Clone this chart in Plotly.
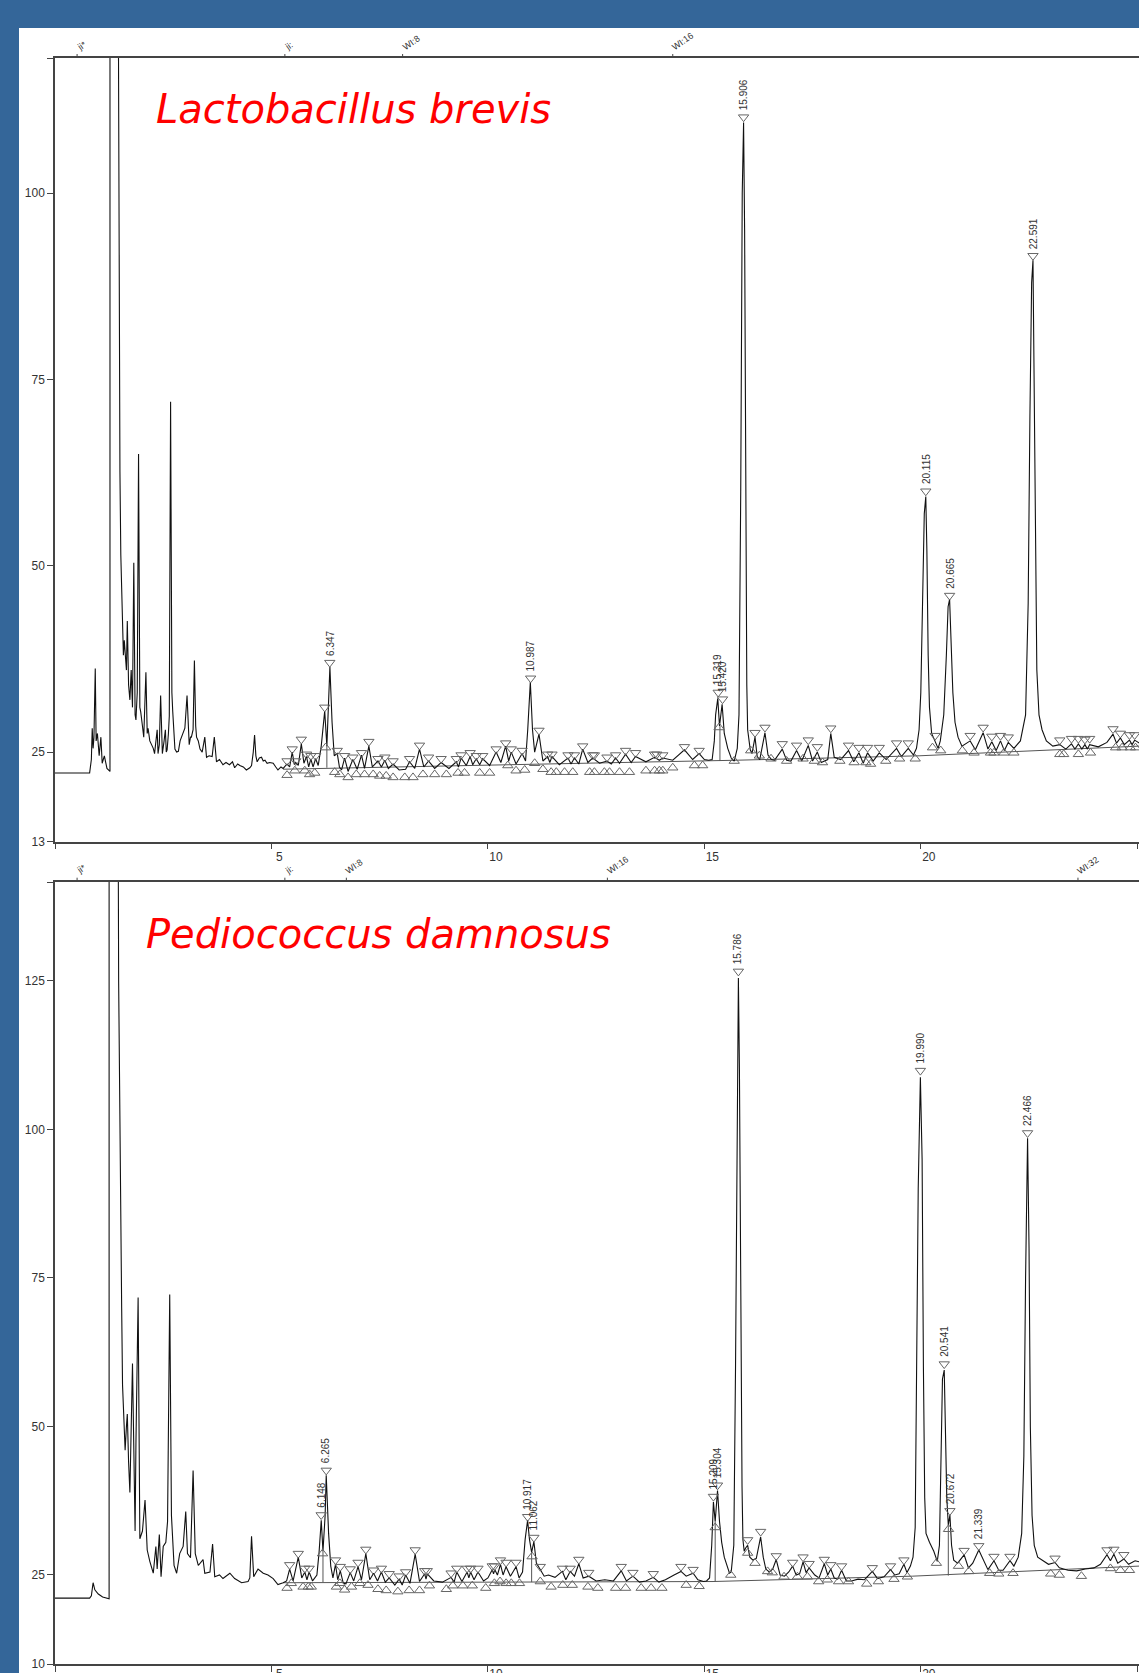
import plotly.graph_objects as go

W, H = 1139, 1673

# ---------------- Lactobacillus brevis (top chromatogram) ----------------
TOP_T = [0.00, 0.80, 0.84, 0.86, 0.88, 0.90, 0.93, 0.95, 0.98, 1.02,
         1.06, 1.09, 1.14, 1.20, 1.27, 1.27, 1.46, 1.47, 1.48, 1.50,
         1.52, 1.54, 1.56, 1.58, 1.60, 1.62, 1.65, 1.67, 1.70, 1.73,
         1.76, 1.79, 1.82, 1.85, 1.87, 1.90, 1.93, 1.96, 1.98, 2.02,
         2.05, 2.10, 2.13, 2.15, 2.19, 2.23, 2.27, 2.30, 2.34, 2.36,
         2.38, 2.41, 2.44, 2.46, 2.48, 2.52, 2.55, 2.57, 2.59, 2.62,
         2.64, 2.67, 2.70, 2.72, 2.75, 2.77, 2.81, 2.85, 2.89, 2.92,
         2.96, 3.00, 3.05, 3.08, 3.10, 3.13, 3.15, 3.19, 3.22, 3.25,
         3.27, 3.31, 3.35, 3.40, 3.46, 3.50, 3.56, 3.63, 3.68, 3.73,
         3.80, 3.88, 3.95, 4.03, 4.10, 4.15, 4.22, 4.27, 4.35, 4.42,
         4.50, 4.54, 4.58, 4.61, 4.64, 4.67, 4.72, 4.77, 4.81, 4.85,
         4.90, 4.96, 5.04, 5.10, 5.15,
         5.22, 5.27, 5.36, 5.42, 5.48, 5.53, 5.56, 5.62, 5.69, 5.75,
         5.81, 5.86, 5.91, 5.96, 6.02, 6.08, 6.15, 6.23, 6.28, 6.35,
         6.40, 6.45, 6.52, 6.57, 6.62, 6.69, 6.77, 6.88, 6.98, 7.08,
         7.15, 7.25, 7.33, 7.46, 7.54, 7.62, 7.70, 7.81, 7.95, 8.10,
         8.19, 8.31, 8.42, 8.52, 8.63, 8.77, 8.92, 9.10, 9.27, 9.32,
         9.38, 9.50, 9.59, 9.65, 9.73, 9.81, 9.88, 10.04, 10.19, 10.30,
         10.41, 10.48, 10.54, 10.65, 10.79, 10.87, 10.92, 10.98, 11.03, 11.08,
         11.18, 11.27, 11.38, 11.43, 11.48, 11.65, 11.85, 11.92, 12.00, 12.10,
         12.19, 12.31, 12.42, 12.58, 12.75, 12.85, 12.95, 13.04, 13.18, 13.31,
         13.41, 13.65, 13.85, 13.96, 14.04, 14.27, 14.54, 14.73, 14.88, 15.00,
         15.10, 15.18, 15.23, 15.26, 15.31, 15.35, 15.41, 15.46, 15.54, 15.62,
         15.69, 15.76, 15.80, 15.84, 15.875, 15.906, 15.93, 15.96, 15.98, 16.00,
         16.06, 16.10, 16.17, 16.22, 16.28, 16.40, 16.47, 16.55, 16.62, 16.80,
         16.90, 17.00, 17.13, 17.25, 17.40, 17.50, 17.61, 17.70, 17.85, 17.92,
         18.00, 18.15, 18.33, 18.45, 18.57, 18.67, 18.77, 18.90, 19.04, 19.20,
         19.44, 19.55, 19.71, 19.83, 19.90, 19.96, 20.00, 20.04, 20.08, 20.115,
         20.14, 20.17, 20.20, 20.25, 20.33, 20.40, 20.45, 20.53, 20.59, 20.63,
         20.665, 20.70, 20.74, 20.79, 20.86, 20.95, 21.14, 21.26, 21.44, 21.55,
         21.64, 21.74, 21.84, 21.93, 22.02, 22.15, 22.30, 22.42, 22.48, 22.52,
         22.56, 22.591, 22.62, 22.65, 22.68, 22.73, 22.80, 22.90, 23.05, 23.21,
         23.35, 23.48, 23.56, 23.64, 23.72, 23.79, 23.85, 23.90, 24.10, 24.30,
         24.44, 24.52, 24.61, 24.70, 24.82, 24.88, 24.94, 25.05]
TOP_V = [22.2, 22.2, 24.0, 28.2, 25.5, 27.0, 36.2, 26.5, 27.5, 24.5,
         27.0, 23.5, 24.5, 22.8, 22.4, 130.0, 130.0, 104.0, 82.0, 62.6,
         51.5, 46.0, 41.5, 38.0, 40.0, 37.6, 36.0, 42.6, 34.0, 32.0,
         36.0, 31.0, 50.4, 30.0, 29.3, 33.0, 65.0, 31.0, 30.4, 28.5,
         27.0, 35.7, 27.5, 28.2, 26.5, 26.0, 25.5, 24.8, 27.0, 28.0,
         24.8, 26.0, 32.6, 27.0, 24.8, 26.5, 28.0, 25.0, 25.3, 27.5,
         29.8, 72.0, 33.0, 30.4, 26.5, 25.4, 25.0, 25.1, 26.5, 27.0,
         27.5, 28.2, 32.6, 27.0, 26.0, 27.0, 27.0, 28.0, 37.3, 28.5,
         27.0, 26.5, 25.4, 25.0, 27.0, 24.3, 24.5, 24.4, 27.0, 23.7,
         24.0, 23.3, 23.6, 23.3, 23.7, 22.9, 23.4, 23.2, 23.0, 22.6,
         22.9, 23.2, 25.0, 27.3, 24.5, 23.7, 24.2, 24.3, 23.8, 23.9,
         23.5, 23.6, 23.5, 23.0, 22.6,
         23.0, 22.8, 23.4, 23.0, 25.0, 23.3, 23.6, 23.2, 26.1, 23.5,
         24.4, 23.0, 24.1, 23.0, 24.1, 23.2, 25.8, 30.5, 25.8, 36.4,
         29.0, 24.5, 24.8, 23.0, 22.6, 24.2, 22.4, 24.0, 22.7, 24.6,
         22.8, 25.8, 23.0, 23.8, 23.0, 23.9, 22.8, 23.4, 22.6, 22.7,
         23.7, 22.8, 25.4, 23.0, 23.8, 22.8, 23.6, 22.8, 23.7, 23.0,
         24.2, 23.2, 24.4, 23.3, 24.1, 23.3, 24.1, 23.2, 25.0, 23.6,
         25.8, 23.8, 25.0, 23.4, 24.8, 23.8, 28.0, 34.4, 28.0, 25.0,
         27.4, 23.8, 24.4, 23.6, 24.4, 23.3, 24.2, 23.4, 24.2, 23.4,
         25.4, 23.6, 24.2, 23.5, 23.8, 23.4, 24.2, 23.5, 24.7, 23.6,
         24.4, 23.7, 24.3, 23.9, 24.2, 23.9, 25.3, 24.0, 24.8, 24.0,
         23.9, 24.0, 26.5, 30.0, 32.2, 28.5, 31.4, 27.5, 25.5, 24.2,
         23.8, 25.5, 30.0, 60.0, 100.0, 109.5, 95.0, 55.0, 34.0, 28.0,
         25.3, 24.8, 27.0, 24.4, 24.0, 27.6, 24.6, 24.0, 23.9, 25.4,
         23.9, 23.8, 25.2, 23.8, 25.9, 23.8, 25.0, 23.6, 24.0, 27.5,
         24.3, 24.0, 25.2, 23.7, 24.9, 23.5, 24.9, 23.8, 24.9, 24.0,
         25.5, 24.4, 25.5, 24.6, 25.5, 28.0, 33.0, 45.0, 57.0, 59.3,
         52.0, 38.0, 31.0, 27.5, 26.5, 25.5, 26.5, 30.0, 38.0, 44.5,
         45.5, 40.0, 33.0, 29.0, 27.0, 25.8, 26.5, 25.3, 27.6, 25.4,
         26.4, 25.2, 26.5, 25.2, 26.3, 25.5, 26.5, 30.0, 45.0, 70.0,
         88.0, 91.0, 70.0, 48.0, 36.0, 30.0, 28.0, 26.5, 25.8, 26.0,
         25.4, 26.1, 25.4, 26.1, 25.4, 26.0, 25.4, 26.0, 25.7, 26.3,
         27.4, 26.2, 26.9, 26.0, 26.6, 26.0, 26.6, 26.2]

TOP_APEX_T = [5.36, 5.48, 5.56, 5.69, 5.81, 5.91, 6.02, 6.23, 6.347, 6.52,
              6.69, 6.88, 7.08, 7.25, 7.46, 7.62, 7.81, 8.19, 8.42, 8.63,
              8.92, 9.27, 9.38, 9.59, 9.73, 9.88, 10.19, 10.41, 10.54, 10.79,
              10.987, 11.18, 11.38, 11.48, 11.85, 12.00, 12.19, 12.42, 12.46, 12.75,
              12.95, 13.18, 13.41, 13.85, 13.90, 14.04, 14.54, 14.88, 15.319, 15.420,
              15.906, 16.17, 16.40, 16.80, 17.13, 17.40, 17.61, 17.92, 18.33, 18.57,
              18.77, 19.04, 19.44, 19.71, 20.115, 20.33, 20.665, 21.14, 21.44, 21.64,
              21.84, 22.02, 22.591, 23.21, 23.48, 23.64, 23.79, 23.90, 24.44, 24.61,
              24.82, 24.94]
TOP_APEX_V = [23.8, 25.4, 23.8, 26.7, 24.7, 24.5, 24.5, 31.0, 37.0, 25.2,
              24.5, 24.3, 24.9, 26.4, 24.1, 24.3, 23.8, 24.1, 25.9, 24.3,
              24.1, 24.1, 24.6, 24.9, 24.5, 24.5, 25.4, 26.2, 25.4, 25.2,
              34.9, 27.9, 24.7, 24.7, 24.6, 24.6, 25.8, 24.6, 24.6, 24.3,
              24.6, 25.2, 24.9, 24.7, 24.7, 24.6, 25.7, 25.2, 33.0, 32.1,
              110.2, 27.6, 28.3, 26.1, 25.9, 26.6, 25.7, 28.2, 25.9, 25.6,
              25.6, 25.6, 26.2, 26.2, 60.0, 27.2, 46.0, 27.2, 28.3, 27.1,
              27.2, 27.0, 91.6, 26.6, 26.8, 26.8, 26.7, 26.8, 28.1, 27.5,
              27.3, 27.3]

TOP_VALLEY_T = [5.36, 5.54, 5.77, 5.88, 6.00, 6.25, 6.46, 6.58, 6.77, 6.96,
                7.15, 7.35, 7.50, 7.65, 7.81, 8.08, 8.27, 8.50, 8.77, 9.04,
                9.31, 9.46, 9.81, 10.04, 10.46, 10.65, 10.85, 11.08, 11.27, 11.46,
                11.58, 11.77, 11.96, 12.35, 12.46, 12.69, 12.81, 13.04, 13.27, 13.65,
                13.85, 13.96, 14.04, 14.27, 14.77, 14.96, 15.34, 15.69, 16.07, 16.27,
                16.54, 16.90, 17.28, 17.54, 17.73, 18.13, 18.46, 18.73, 18.84, 19.19,
                19.51, 19.87, 20.27, 20.46, 20.96, 21.23, 21.61, 21.69, 21.92, 22.15,
                23.21, 23.30, 23.64, 23.92, 24.50, 24.65, 24.84, 24.96]
TOP_VALLEY_V = [21.9, 22.5, 22.5, 22.0, 22.2, 25.6, 22.3, 22.0, 21.6, 22.0,
                22.0, 22.0, 21.8, 21.8, 21.6, 21.6, 21.6, 22.0, 22.0, 22.0,
                22.2, 22.2, 22.2, 22.2, 23.2, 22.5, 22.6, 23.5, 22.7, 22.3,
                22.3, 22.3, 22.3, 22.3, 22.3, 22.3, 22.3, 22.3, 22.3, 22.5,
                22.5, 22.5, 22.5, 22.9, 23.2, 23.2, 28.3, 23.8, 25.2, 24.5,
                24.1, 23.8, 24.1, 23.8, 23.6, 23.8, 23.6, 23.6, 23.4, 23.8,
                24.1, 24.1, 25.6, 25.2, 25.2, 24.9, 24.9, 24.9, 24.9, 24.9,
                24.7, 24.7, 24.7, 24.9, 25.6, 25.6, 25.6, 25.6]

TOP_BASE_T = [5.27, 15.00, 15.69, 19.96, 25.05]
TOP_BASE_V = [22.7, 23.8, 23.9, 24.5, 25.8]
TOP_DROP_T = [6.28, 15.36]
TOP_DROP_LO = [22.9, 23.8]
TOP_DROP_HI = [25.8, 28.5]

TOP_LABEL_TEXT = ["6.347", "10.987", "15.319", "15.420", "15.906", "20.115", "20.665", "22.591"]
TOP_LABEL_T = [6.347, 10.987, 15.319, 15.420, 15.906, 20.115, 20.665, 22.591]
TOP_LABEL_V = [37.0, 34.9, 33.0, 32.1, 110.2, 60.0, 46.0, 91.6]

TOP_EVENT_T = [0.51, 5.31, 8.03, 14.27]
TOP_EVENT_TEXT = ["ji*", "ji:", "WI:8", "WI:16"]

TOP_TITLE = "Lactobacillus brevis"
TOP_YTICKS = [13, 25, 50, 75, 100, 118.1]
TOP_YTEXT = ["13", "25", "50", "75", "100", ""]
TOP_YRANGE = [13, 118.14]

# ---------------- Pediococcus damnosus (bottom chromatogram) ----------------
BOT_T = [0.00, 0.80, 0.84, 0.88, 0.92, 1.00, 1.10, 1.25, 1.25, 1.46,
         1.47, 1.49, 1.50, 1.52, 1.54, 1.56, 1.58, 1.59, 1.62, 1.65,
         1.67, 1.70, 1.73, 1.79, 1.83, 1.85, 1.87, 1.92, 1.96, 2.02,
         2.08, 2.13, 2.19, 2.27, 2.33, 2.36, 2.41, 2.45, 2.50, 2.56,
         2.60, 2.62, 2.65, 2.69, 2.75, 2.81, 2.88, 2.96, 3.02, 3.06,
         3.13, 3.19, 3.24, 3.31, 3.42, 3.46, 3.58, 3.64, 3.69, 3.80,
         3.88, 4.04, 4.15, 4.31, 4.46, 4.50, 4.54, 4.59, 4.69, 4.81,
         4.92, 5.04, 5.15,
         5.27, 5.35, 5.42, 5.50, 5.62, 5.70, 5.77, 5.82, 5.87, 5.95,
         6.05, 6.10, 6.15, 6.19, 6.24, 6.265, 6.32, 6.37, 6.42, 6.48,
         6.53, 6.59, 6.66, 6.72, 6.82, 6.90, 7.00, 7.08, 7.18, 7.27,
         7.36, 7.45, 7.54, 7.63, 7.72, 7.85, 7.95, 8.02, 8.10, 8.20,
         8.32, 8.42, 8.54, 8.57, 8.60, 8.75, 8.95, 9.15, 9.22, 9.28,
         9.40, 9.52, 9.56, 9.60, 9.68, 9.77, 9.90, 10.00, 10.10, 10.13,
         10.16, 10.22, 10.29, 10.35, 10.42, 10.52, 10.65, 10.72, 10.80, 10.86,
         10.917, 10.96, 11.01, 11.062, 11.12, 11.21, 11.30, 11.40, 11.55, 11.72,
         11.80, 11.90, 12.00, 12.10, 12.20, 12.33, 12.50, 12.70, 12.90, 13.08,
         13.20, 13.35, 13.50, 13.65, 13.82, 13.95, 14.10, 14.30, 14.46, 14.58,
         14.74, 14.85, 14.98,
         15.05, 15.12, 15.17, 15.209, 15.25, 15.304, 15.35, 15.40, 15.46, 15.53,
         15.58, 15.62, 15.68, 15.72, 15.75, 15.786, 15.81, 15.84, 15.87, 15.89,
         15.92, 15.95, 16.00, 16.05, 16.12, 16.20, 16.30, 16.36, 16.42, 16.50,
         16.58, 16.66, 16.75, 16.85, 16.95, 17.04, 17.12, 17.20, 17.28, 17.35,
         17.42, 17.55, 17.65, 17.77, 17.85, 17.92, 18.00, 18.08, 18.17, 18.28,
         18.40, 18.55, 18.70, 18.88, 19.00, 19.15, 19.30, 19.40, 19.50, 19.61,
         19.68, 19.76, 19.82, 19.87, 19.90, 19.94, 19.99, 20.03, 20.06, 20.09,
         20.12, 20.20, 20.30, 20.38, 20.43, 20.47, 20.50, 20.541, 20.57, 20.60,
         20.635, 20.672, 20.71, 20.76, 20.85, 21.00, 21.10, 21.20, 21.339, 21.45,
         21.55, 21.69, 21.80, 21.90, 22.06, 22.15, 22.25, 22.33, 22.38, 22.42,
         22.466, 22.50, 22.53, 22.57, 22.62, 22.70, 22.80, 22.95, 23.10, 23.20,
         23.40, 23.60, 23.80, 24.00, 24.15, 24.30, 24.38, 24.46, 24.55, 24.69,
         24.80, 24.95, 25.05]
BOT_V = [21.1, 21.1, 21.5, 23.7, 22.5, 21.8, 21.3, 21.0, 150.0, 150.0,
         125.0, 105.0, 93.8, 80.0, 69.9, 57.0, 53.0, 51.8, 46.0, 50.0,
         52.1, 44.0, 38.9, 60.6, 36.0, 32.4, 47.3, 71.7, 31.1, 32.4,
         37.6, 29.2, 27.3, 25.3, 29.8, 26.0, 31.8, 24.7, 29.8, 30.5,
         34.0, 46.7, 72.2, 35.0, 26.6, 25.3, 28.6, 29.8, 35.7, 28.6,
         27.9, 42.6, 28.6, 26.6, 27.6, 25.3, 25.5, 30.2, 24.7, 25.0,
         24.4, 25.3, 24.4, 23.7, 23.9, 24.5, 31.5, 24.7, 26.0, 25.3,
         25.0, 24.4, 23.4,
         23.7, 24.0, 26.0, 24.0, 28.0, 24.5, 25.5, 24.2, 25.5, 24.0,
         25.0, 28.8, 34.2, 29.0, 35.0, 41.8, 32.0, 26.5, 24.5, 26.8,
         24.2, 25.7, 23.6, 23.5, 25.4, 24.0, 26.4, 24.2, 28.6, 24.2,
         25.3, 24.0, 25.5, 23.8, 24.5, 23.3, 24.3, 23.3, 25.0, 23.6,
         28.5, 23.9, 25.2, 24.3, 25.2, 24.0, 23.8, 24.6, 23.8, 25.5,
         23.9, 25.5, 24.5, 25.5, 24.2, 25.5, 24.0, 24.5, 25.9, 25.2,
         25.9, 25.0, 26.8, 25.0, 26.4, 24.8, 26.4, 24.5, 25.5, 31.0,
         34.2, 31.0, 28.8, 30.6, 27.0, 25.8, 24.8, 25.0, 24.6, 25.6,
         24.2, 25.6, 24.8, 26.9, 24.5, 24.8, 24.0, 24.2, 24.0, 25.7,
         24.0, 24.8, 23.8, 24.0, 24.6, 23.8, 24.2, 25.0, 25.6, 24.8,
         25.3, 24.2, 23.9,
         24.0, 24.5, 30.0, 37.3, 34.0, 39.2, 34.0, 30.5, 28.0, 26.2,
         25.3, 25.5, 30.0, 60.0, 100.0, 125.5, 110.0, 70.0, 40.0, 31.0,
         29.0, 29.5, 30.0, 28.0, 27.5, 27.8, 31.4, 28.0, 26.0, 25.5,
         26.0, 27.6, 25.0, 24.8, 25.5, 26.5, 25.0, 25.2, 27.2, 25.4,
         26.2, 25.0, 24.5, 26.9, 25.0, 26.0, 24.5, 24.3, 25.8, 24.0,
         24.0, 24.3, 24.2, 25.6, 24.4, 24.7, 25.9, 25.0, 25.2, 26.8,
         25.4, 26.5, 28.0, 33.0, 55.0, 90.0, 108.8, 95.0, 60.0, 38.0,
         32.0, 30.5, 29.0, 27.3, 30.0, 45.0, 58.0, 59.5, 45.0, 38.0,
         33.4, 35.1, 30.0, 27.5, 27.0, 28.4, 26.2, 27.0, 29.2, 27.5,
         25.9, 27.4, 25.8, 25.8, 27.4, 26.5, 28.0, 32.0, 45.0, 75.0,
         98.5, 80.0, 50.0, 35.0, 30.0, 28.0, 27.5, 26.8, 27.1, 26.2,
         25.8, 25.7, 26.0, 26.2, 26.8, 28.4, 27.4, 28.5, 27.0, 27.7,
         26.8, 27.4, 27.2]

BOT_APEX_T = [5.42, 5.62, 5.77, 5.87, 6.148, 6.265, 6.48, 6.59, 6.82, 7.00,
              7.18, 7.36, 7.54, 7.72, 7.95, 8.10, 8.32, 8.54, 8.60, 9.15,
              9.28, 9.52, 9.60, 9.77, 10.10, 10.15, 10.29, 10.42, 10.65, 10.917,
              11.062, 11.21, 11.72, 11.90, 12.10, 12.33, 13.08, 13.35, 13.82, 14.46,
              14.74, 15.209, 15.304, 15.786, 16.00, 16.30, 16.66, 17.04, 17.28, 17.42,
              17.77, 17.92, 18.17, 18.88, 19.30, 19.61, 19.990, 20.541, 20.672, 21.00,
              21.339, 21.69, 22.06, 22.466, 23.10, 24.30, 24.46, 24.69]
BOT_APEX_V = [26.7, 28.6, 26.1, 26.1, 35.1, 42.6, 27.5, 26.4, 26.0, 27.1,
              29.3, 25.8, 26.1, 25.2, 24.8, 25.5, 29.2, 25.7, 25.7, 25.3,
              26.1, 26.1, 26.1, 26.1, 26.5, 26.5, 27.5, 27.1, 27.1, 34.8,
              31.3, 26.4, 26.1, 26.1, 27.6, 25.4, 26.4, 25.4, 25.2, 26.4,
              25.9, 38.2, 40.1, 126.6, 30.9, 32.3, 28.2, 27.1, 28.0, 26.9,
              27.6, 26.7, 26.5, 26.2, 26.5, 27.5, 109.9, 60.5, 35.8, 29.1,
              29.9, 28.1, 28.1, 99.4, 27.8, 29.2, 29.3, 28.4]

BOT_VALLEY_T = [5.36, 5.46, 5.73, 5.85, 5.92, 6.18, 6.50, 6.58, 6.69, 6.85,
                7.04, 7.23, 7.46, 7.65, 7.92, 8.18, 8.42, 8.65, 9.04, 9.19,
                9.42, 9.64, 9.95, 10.15, 10.28, 10.42, 10.54, 10.73, 11.02, 11.21,
                11.46, 11.73, 11.95, 12.31, 12.54, 12.95, 13.18, 13.54, 13.77, 14.02,
                14.58, 14.88, 15.25, 15.61, 16.00, 16.17, 16.46, 16.57, 16.84, 17.15,
                17.38, 17.64, 17.84, 18.10, 18.33, 18.75, 19.02, 19.38, 19.69, 20.36,
                20.64, 20.87, 21.11, 21.59, 21.80, 22.13, 23.00, 23.20, 23.71, 24.38,
                24.61, 24.82]
BOT_VALLEY_V = [22.8, 23.6, 23.0, 23.0, 23.0, 28.6, 23.0, 23.6, 22.5, 23.0,
                23.6, 23.3, 22.6, 22.4, 22.2, 22.4, 22.4, 23.2, 22.6, 23.2,
                23.2, 23.2, 22.8, 23.6, 23.9, 23.6, 23.6, 23.6, 28.1, 23.9,
                23.0, 23.3, 23.3, 23.0, 22.8, 22.8, 22.8, 22.8, 22.8, 22.8,
                23.3, 23.1, 33.0, 25.0, 28.7, 27.0, 25.6, 25.4, 24.7, 24.7,
                24.7, 23.9, 24.2, 23.9, 23.9, 23.5, 23.9, 24.3, 24.7, 27.0,
                32.7, 26.5, 25.6, 25.3, 25.2, 25.3, 25.2, 25.0, 24.8, 26.1,
                25.8, 25.8]

BOT_BASE_T = [5.27, 15.20, 19.80, 25.05]
BOT_BASE_V = [23.7, 23.9, 24.8, 26.5]
BOT_DROP_T = [6.19, 11.01, 15.25, 20.635]
BOT_DROP_LO = [23.8, 23.8, 23.9, 24.9]
BOT_DROP_HI = [29.0, 28.8, 34.0, 33.4]

BOT_LABEL_TEXT = ["6.148", "6.265", "10.917", "11.062", "15.209", "15.304",
                  "15.786", "19.990", "20.541", "20.672", "21.339", "22.466"]
BOT_LABEL_T = [6.148, 6.265, 10.917, 11.062, 15.209, 15.304,
               15.786, 19.990, 20.541, 20.672, 21.339, 22.466]
BOT_LABEL_V = [35.1, 42.6, 34.8, 31.3, 38.2, 40.1, 126.6, 109.9, 60.5, 35.8, 29.9, 99.4]

BOT_EVENT_T = [0.51, 5.31, 6.73, 12.76, 23.63]
BOT_EVENT_TEXT = ["ji*", "ji:", "WI:8", "WI:16", "WI:32"]

BOT_TITLE = "Pediococcus damnosus"
BOT_YTICKS = [10, 25, 50, 75, 100, 125, 141.6]
BOT_YTEXT = ["10", "25", "50", "75", "100", "125", ""]
BOT_YRANGE = [10, 141.7]

X_TICKS = [0, 5, 10, 15, 20, 25]
X_TEXT = ["", "5", "10", "15", "20", "25"]
X_RANGE = [0, 25.04]

# ---------------- layout geometry ----------------
def pf(y_px):
    return 1 - y_px / H

X_DOM = [55 / W, 1.0]
TOP_DOM = [pf(841.5), pf(58)]
BOT_DOM = [pf(1664.1), pf(881.7)]

AXCOL = "#444444"
MARKCOL = "#666666"
TICKFONT = dict(family="Liberation Sans, Arial, sans-serif", size=12, color="#333333")

fig = go.Figure()
annotations = []
shapes = [dict(type="rect", xref="paper", yref="paper", x0=19 / W, x1=1.0,
               y0=0, y1=pf(28), fillcolor="white", line=dict(width=0), layer="below")]

panels = [
    ("x", "y", TOP_DOM, TOP_T, TOP_V, TOP_APEX_T, TOP_APEX_V, TOP_VALLEY_T, TOP_VALLEY_V,
     TOP_BASE_T, TOP_BASE_V, TOP_DROP_T, TOP_DROP_LO, TOP_DROP_HI,
     TOP_LABEL_TEXT, TOP_LABEL_T, TOP_LABEL_V, TOP_EVENT_T, TOP_EVENT_TEXT, TOP_TITLE, 154, 109),
    ("x2", "y2", BOT_DOM, BOT_T, BOT_V, BOT_APEX_T, BOT_APEX_V, BOT_VALLEY_T, BOT_VALLEY_V,
     BOT_BASE_T, BOT_BASE_V, BOT_DROP_T, BOT_DROP_LO, BOT_DROP_HI,
     BOT_LABEL_TEXT, BOT_LABEL_T, BOT_LABEL_V, BOT_EVENT_T, BOT_EVENT_TEXT, BOT_TITLE, 144, 934),
]

for (xa, ya, dom, T, V, AT, AV, VT, VV, BT, BV, DT, DL, DH,
     LTXT, LT, LV, ET, ETXT, TITLE, title_x, title_y) in panels:
    # baseline
    fig.add_trace(go.Scatter(x=BT, y=BV, xaxis=xa, yaxis=ya, mode="lines",
                             line=dict(color="#555555", width=1), hoverinfo="skip"))
    # drop lines
    dx, dy = [], []
    for t, lo, hi in zip(DT, DL, DH):
        dx += [t, t, None]
        dy += [lo, hi, None]
    fig.add_trace(go.Scatter(x=dx, y=dy, xaxis=xa, yaxis=ya, mode="lines",
                             line=dict(color="#555555", width=1), hoverinfo="skip"))
    # chromatogram
    fig.add_trace(go.Scatter(x=T, y=V, xaxis=xa, yaxis=ya, mode="lines",
                             line=dict(color="#111111", width=1.1)))
    # peak start/end markers
    fig.add_trace(go.Scatter(x=VT, y=VV, xaxis=xa, yaxis=ya, mode="markers",
                             marker=dict(symbol="triangle-up-open", size=9, color=MARKCOL,
                                         line=dict(width=1, color=MARKCOL))))
    # apex markers
    fig.add_trace(go.Scatter(x=AT, y=AV, xaxis=xa, yaxis=ya, mode="markers",
                             marker=dict(symbol="triangle-down-open", size=9, color=MARKCOL,
                                         line=dict(width=1, color=MARKCOL))))
    # peak labels
    for txt, t, v in zip(LTXT, LT, LV):
        annotations.append(dict(x=t, y=v, xref=xa, yref=ya, text=txt, textangle=-90,
                                showarrow=False, xanchor="center", yanchor="bottom", yshift=5,
                                font=dict(family="Liberation Sans, Arial", size=10, color="#333333")))
    # event ticks and labels on the top border
    for t, txt in zip(ET, ETXT):
        shapes.append(dict(type="line", xref=xa, yref="paper", x0=t, x1=t,
                           y0=dom[1], y1=dom[1] + 4 / H, line=dict(color=AXCOL, width=1)))
        annotations.append(dict(x=t, y=dom[1], xref=xa, yref="paper", text=txt, textangle=-35,
                                showarrow=False, xanchor="left", yanchor="bottom", xshift=-5, yshift=3,
                                font=dict(family="Liberation Sans, Arial", size=9, color="#333333")))
    # title
    annotations.append(dict(x=title_x / W, y=pf(title_y), xref="paper", yref="paper", text=TITLE,
                            showarrow=False, xanchor="left", yanchor="middle",
                            font=dict(family="DejaVu Sans", size=40, color="#ff0000", style="italic")))

def xaxis(anchor, standoff):
    return dict(domain=X_DOM, anchor=anchor, range=X_RANGE, tickmode="array",
                tickvals=X_TICKS, ticktext=X_TEXT, ticks="outside", ticklen=6, tickwidth=1,
                tickcolor=AXCOL, showline=True, linecolor=AXCOL, linewidth=1.5, mirror=True,
                showgrid=False, zeroline=False, tickfont=TICKFONT, ticklabelshift=8,
                ticklabelstandoff=standoff, automargin=False, fixedrange=True)

def yaxis(anchor, dom, rng, tv, tt):
    return dict(domain=dom, anchor=anchor, range=rng, tickmode="array", tickvals=tv, ticktext=tt,
                ticks="outside", ticklen=6, tickwidth=1, tickcolor=AXCOL, showline=True,
                linecolor=AXCOL, linewidth=1.5, mirror=False, showgrid=False, zeroline=False,
                tickfont=TICKFONT, automargin=False, fixedrange=True)

fig.update_layout(
    template="none",
    width=W, height=H,
    margin=dict(l=0, r=0, t=0, b=0),
    paper_bgcolor="#346699",
    plot_bgcolor="white",
    showlegend=False,
    xaxis=xaxis("y", -3),
    yaxis=yaxis("x", TOP_DOM, TOP_YRANGE, TOP_YTICKS, TOP_YTEXT),
    xaxis2=xaxis("y2", -8),
    yaxis2=yaxis("x2", BOT_DOM, BOT_YRANGE, BOT_YTICKS, BOT_YTEXT),
    annotations=annotations,
    shapes=shapes,
    hovermode=False,
)

fig.write_html("out.html",
               config={"displayModeBar": False},
               post_script="document.body.style.margin='0';document.body.style.padding='0';")
